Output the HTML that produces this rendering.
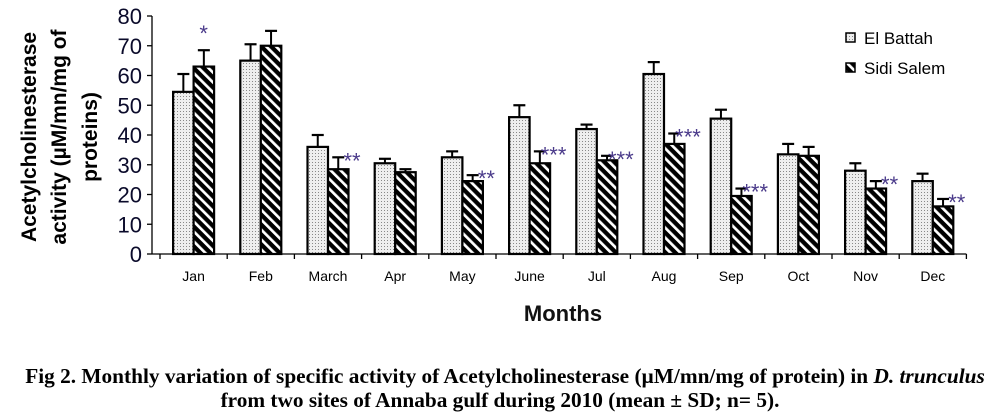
<!DOCTYPE html>
<html><head><meta charset="utf-8"><style>
body{margin:0;background:#fff;width:996px;height:419px;overflow:hidden}
svg{display:block}
</style></head><body>
<svg width="996" height="419" xmlns="http://www.w3.org/2000/svg" font-family="Liberation Sans, Arial, sans-serif">
<defs>
<pattern id="dots" width="3" height="3" patternUnits="userSpaceOnUse">
<rect width="3" height="3" fill="#eee"/><rect width="1" height="1" fill="#888"/>
</pattern>
<pattern id="hatch" width="7" height="7" patternUnits="userSpaceOnUse" patternTransform="rotate(45)">
<rect width="7" height="7" fill="#fff"/><rect width="7" height="4.3" fill="#000"/>
</pattern>
</defs>
<g id="chart"></g>
<text x="563" y="321" font-size="22" font-weight="bold" text-anchor="middle" fill="#111">Months</text>
<g font-weight="bold" font-size="21" fill="#000" text-anchor="middle">
<text transform="translate(36,137) rotate(-90)">Acetylcholinesterase</text>
<text transform="translate(66,137) rotate(-90)">activity (µM/mn/mg of</text>
<text transform="translate(97,137) rotate(-90)">proteins)</text>
</g>
<g font-family="Liberation Serif, serif" font-weight="bold" font-size="21.3" text-anchor="middle" fill="#000">
<text x="505" y="383">Fig 2. Monthly variation of specific activity of Acetylcholinesterase (µM/mn/mg of protein) in <tspan font-style="italic">D. trunculus</tspan></text>
<text x="500" y="407">from two sites of Annaba gulf during 2010 (mean ± SD; n= 5).</text>
</g>
<rect x="846" y="33" width="9" height="9" fill="url(#dots)" stroke="#000" stroke-width="1.5"/>
<text x="864" y="44" font-size="17" fill="#000">El Battah</text>
<rect x="846" y="63" width="9" height="9" fill="url(#hatch)" stroke="#000" stroke-width="1.5"/>
<text x="864" y="74" font-size="17" fill="#000">Sidi Salem</text>
</svg>
<script>
const g=document.getElementById('chart');
const y0=254,k=2.975,x0=160,w=67.2;
const d=[["Jan",54.5,6,63,5.5,"*"],["Feb",65,5.5,70,5,""],["March",36,4,28.5,4,"**"],["Apr",30.5,1.5,27.5,1,""],["May",32.5,2,24.5,2,"**"],["June",46,4,30.5,4,"***"],["Jul",42,1.5,31.5,1.5,"***"],["Aug",60.5,4,37,3.5,"***"],["Sep",45.5,3,19.5,2.5,"***"],["Oct",33.5,3.5,33,3,""],["Nov",28,2.5,22,2.5,"**"],["Dec",24.5,2.5,16,2.5,"**"]];
let s='';
s+=`<line x1="152" y1="16" x2="152" y2="${y0}" stroke="#000" stroke-width="1.3"/>`;
for(let i=0;i<=8;i++){const y=y0-i*10*k;s+=`<line x1="147" x2="152" y1="${y}" y2="${y}" stroke="#000" stroke-width="1.3"/><text x="142" y="${y+8}" font-size="22" text-anchor="end" fill="#0a0a2a">${i*10}</text>`;}
s+=`<line x1="152" y1="${y0}" x2="${x0+12*w}" y2="${y0}" stroke="#000" stroke-width="1.3"/>`;
d.forEach((r,i)=>{const xs=x0+i*w,c=xs+w/2;
s+=`<line x1="${xs}" x2="${xs}" y1="${y0}" y2="${y0+5}" stroke="#000" stroke-width="1.3"/>`;
s+=`<text x="${c}" y="${y0+27}" font-size="14" text-anchor="middle" fill="#000">${r[0]}</text>`;
[[r[1],r[2],c-20.5,'dots'],[r[3],r[4],c,'hatch']].forEach(b=>{const top=y0-b[0]*k,et=y0-(b[0]+b[1])*k,bx=b[2],mx=bx+10.25;
s+=`<line x1="${mx}" x2="${mx}" y1="${top}" y2="${et}" stroke="#000" stroke-width="2"/><line x1="${mx-6}" x2="${mx+6}" y1="${et}" y2="${et}" stroke="#000" stroke-width="2.2"/>`;
s+=`<rect x="${bx}" y="${top}" width="20.5" height="${y0-top}" fill="url(#${b[3]})" stroke="#000" stroke-width="2.2"/>`;});
if(r[5]){const ty=y0-(r[3]+r[4])*k-3;s+=`<text x="${c+(r[5].length>1?24:10)}" y="${r[5]=='*'?ty-6:ty+14}" font-size="22" text-anchor="middle" fill="#4a3a8a">${r[5]}</text>`;}
});
s+=`<line x1="${x0+12*w}" x2="${x0+12*w}" y1="${y0}" y2="${y0+5}" stroke="#000" stroke-width="1.3"/>`;
g.innerHTML=s;
</script>
</body></html>
